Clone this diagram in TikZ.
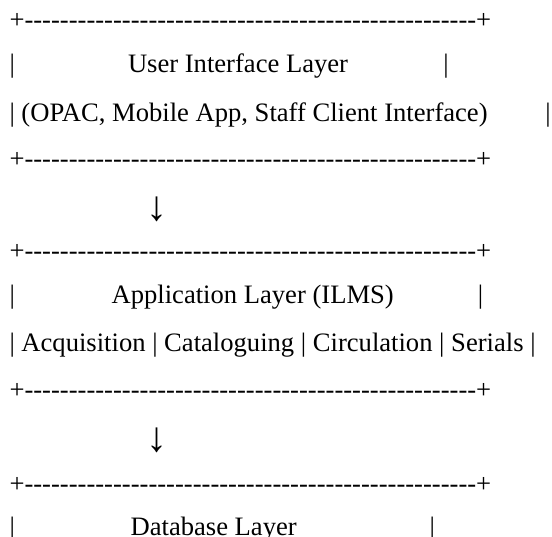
\documentclass[tikz,border=0pt]{standalone}
\usepackage{fontspec}
\setmainfont{Liberation Serif}[Ligatures={TeX,NoCommon}]
\ExplSyntaxOn
\NewDocumentCommand\asciidashes{m}{\prg_replicate:nn{#1}{-\kern0pt}}
\ExplSyntaxOff
\tikzset{
  txt/.style={anchor=base west, inner sep=0pt, outer sep=0pt, font=\fontsize{26.6}{30}\selectfont},
  barch/.style={anchor=base, inner sep=0pt, outer sep=0pt, font=\fontsize{26.6}{30}\selectfont},
  arr/.style={anchor=center, inner sep=0pt, outer sep=0pt, font=\fontsize{42}{46}\selectfont}
}
\begin{document}
\begin{tikzpicture}[x=1pt,y=-1pt]
\useasboundingbox (0,0) rectangle (552,537);
% User Interface Layer box
\node[txt] (t1) at (9.5,29) {+\asciidashes{51}+};
\node[txt] (l1a) at (9.5,73) {|};
\node[txt] (l1b) at (128,73) {User Interface Layer};
\node[barch] (l1c) at (446,73) {|};
\node[txt] (l2) at (9.5,121.5) {| (OPAC, Mobile App, Staff Client Interface)};
\node[barch] (l2c) at (548,121.5) {|};
\node[txt] (t2) at (9.5,167.5) {+\asciidashes{51}+};
% arrow
\node[arr] (a1) at (157.4,209) {↓};
% Application layer box
\node[txt] (t3) at (9.5,259.5) {+\asciidashes{51}+};
\node[txt] (l3a) at (9.5,303.5) {|};
\node[txt] (l3b) at (111.6,303.5) {Application Layer (ILMS)};
\node[barch] (l3c) at (480.5,303.5) {|};
\node[txt] (l4) at (9.5,352) {| Acquisition | Cataloguing | Circulation | Serials |};
\node[txt] (t4) at (9.5,399) {+\asciidashes{51}+};
% arrow
\node[arr] (a2) at (157.4,440) {↓};
% Database layer box
\node[txt] (t5) at (9.5,492) {+\asciidashes{51}+};
\node[txt] (l5a) at (9.5,535.5) {|};
\node[txt] (l5b) at (130.6,535.5) {Database Layer};
\node[barch] (l5c) at (432.4,535.5) {|};
\end{tikzpicture}
\end{document}
